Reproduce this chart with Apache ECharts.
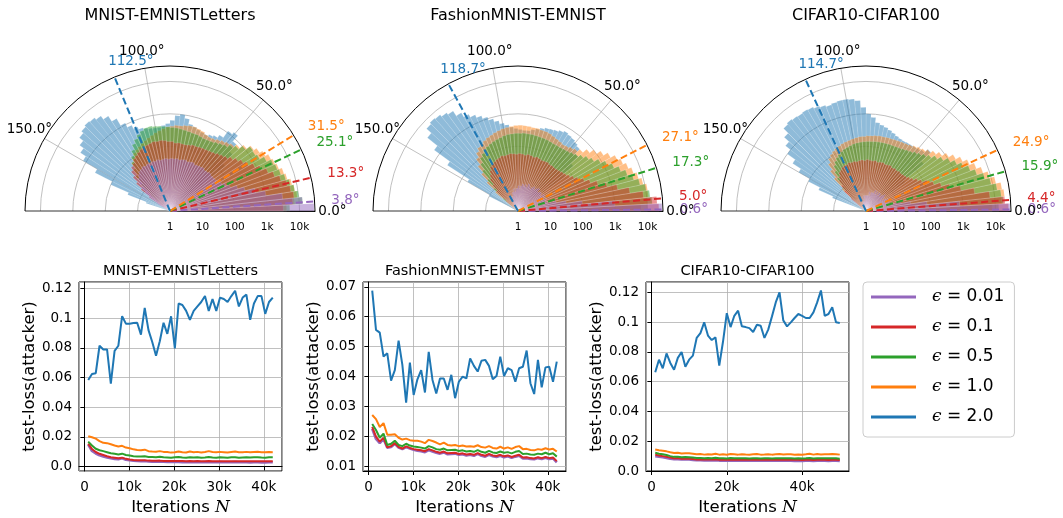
<!DOCTYPE html>
<html><head><meta charset="utf-8">
<script src="https://cdn.jsdelivr.net/npm/echarts@6/dist/echarts.min.js"></script>
<style>html,body{margin:0;padding:0;background:#fff}#c{width:1063px;height:518px}</style>
</head><body><div id="c"></div>
<script>
const FONT = 'DejaVu Sans';
// series order: eps 0.01, 0.1, 0.5, 1.0, 2.0
const epsNames = ['ϵ = 0.01', 'ϵ = 0.1', 'ϵ = 0.5', 'ϵ = 1.0', 'ϵ = 2.0'];
const COLORS = ['#9467bd', '#d62728', '#2ca02c', '#ff7f0e', '#1f77b4'];
const titles = ['MNIST-EMNISTLetters', 'FashionMNIST-EMNIST', 'CIFAR10-CIFAR100'];

// ---------- polar histograms: counts per 3° bin starting at 0° ----------
const BIN_DEG = 3;
const angleTicks = [0, 50, 100, 150];
const RMAX = 30000;

const h1_001 = [28000,12589,3162,1000,501,251,158,100,79,63,56,50,48,47,50,46,45,48,45,44,42,45,43,41,44,42,40,43,41,42,40,42,41,39,42,40,41,39,40,38,40,37,35,30,25,20,14,9,6,3];
const h1_01 = [3162,6310,7079,6026,5012,3548,2512,1778,1259,891,631,501,398,316,251,224,200,178,166,158,151,148,141,141,132,126,126,132,126,141,141,151,158,151,158,148,141,132,126,112,100,89,71,63,50,35,22,13,6];
const h1_05 = [5012,12589,10000,7943,6310,5012,3981,3548,3162,2239,1585,1413,1479,1000,708,562,447,398,355,316,302,295,302,316,316,331,339,355,372,380,398,417,437,457,479,468,417,355,282,224,158,112,79,50,32,16,6];
const h1_10 = [3981,7079,8913,7943,7079,5623,5012,3981,3548,3162,2512,1995,1585,1122,794,631,562,501,447,398,380,398,447,479,501,501,479,447,447,417,398,355,316,282,251,224,200,178,158,141,126,100,79,50,32,16,8,3];
const h1_20 = [0,0,0,0,0,0,0,0,0,0,0,0,0,158,398,794,1350,1120,631,501,447,398,417,447,501,562,794,1000,891,631,501,447,398,398,417,447,501,603,794,1120,1995,3162,4266,5012,5370,4786,3981,2818,1995,1259,398,100,25,6];

const h2_001 = [28000,1000,100,32,16,9,8,9,7,8,9,7,8,8,7,9,8,7,8,7,6,7,8,6,7,6,7,6,5,6,5,5,4,5,4,4,3,3,3,2];
const h2_01 = [22387,19953,7943,3162,1413,708,398,251,178,126,100,83,72,66,60,57,55,56,54,57,55,53,56,58,54,57,59,55,58,60,57,59,61,58,56,59,55,52,48,45,40,32,25,20,13,8,3];
const h2_05 = [10000,14125,12589,10000,7079,5012,3548,2512,1778,1259,891,631,501,398,316,282,251,240,229,224,224,229,234,240,240,245,251,251,257,251,251,245,240,229,214,200,186,174,158,141,120,100,71,45,22,10,4];
const h2_10 = [6310,10000,11220,11220,8913,7079,5623,4467,3548,2818,1995,1413,1000,708,501,398,355,316,302,316,331,355,380,398,398,417,417,427,437,447,437,417,398,380,355,331,302,282,251,224,200,158,112,71,40,20,8];
const h2_20 = [0,0,0,0,0,0,0,0,0,0,0,0,63,158,316,501,562,631,661,708,631,562,525,501,447,398,355,316,316,331,355,398,479,562,708,891,1122,1413,1778,2239,3162,4786,5623,6607,7079,6310,3981,1585,398,63,10];

const h3_001 = [28000,794,79,25,13,6,5,6,5,6,5,4,5,6,5,4,5,5,4,5,4,5,4,4,4,3,4,3,3,3,3,3,2,3,2,2,2];
const h3_01 = [25119,19953,7079,2512,1000,501,282,178,126,89,71,56,48,42,40,38,39,37,38,36,39,37,36,38,37,35,38,36,37,39,36,38,37,35,37,36,38,35,36,34,30,28,22,18,12,8,4];
const h3_05 = [12589,17783,15849,12589,8913,6310,3981,2818,1995,1413,1000,708,525,398,316,263,229,200,182,170,158,155,151,151,148,148,145,145,141,141,138,135,132,126,120,112,105,95,85,74,63,50,35,22,11,5];
const h3_10 = [7943,15849,19953,17783,12589,8913,6310,4467,3162,2239,1585,1122,794,603,479,398,355,316,282,263,251,240,234,229,229,224,224,219,214,209,200,200,191,182,174,166,158,148,138,126,112,95,71,45,25,10];
const h3_20 = [0,0,0,0,0,0,0,0,0,0,0,0,32,200,501,355,316,302,295,288,282,295,316,355,398,447,501,562,794,1000,1585,2630,3020,3162,3162,3020,2818,3162,3548,3981,4169,3981,4169,4467,3981,2512,1585,1000,501,251,100,40,13];

const mean1 = [3.8, 13.3, 25.1, 31.5, 112.5];
const mean2 = [0.6, 5.0, 17.3, 27.1, 118.7];
const mean3 = [0.6, 4.4, 15.9, 24.9, 114.7];

// ---------- test-loss curves ----------
const iters42 = [840,1680,2520,3360,4200,5040,5880,6720,7560,8400,9240,10080,10920,11760,12600,13440,14280,15120,15960,16800,17640,18480,19320,20160,21000,21840,22680,23520,24360,25200,26040,26880,27720,28560,29400,30240,31080,31920,32760,33600,34440,35280,36120,36960,37800,38640,39480,40320,41160,42000];
const iters50 = [1000,2000,3000,4000,5000,6000,7000,8000,9000,10000,11000,12000,13000,14000,15000,16000,17000,18000,19000,20000,21000,22000,23000,24000,25000,26000,27000,28000,29000,30000,31000,32000,33000,34000,35000,36000,37000,38000,39000,40000,41000,42000,43000,44000,45000,46000,47000,48000,49000,50000];

const l1_001 = [0.0148,0.0105,0.0088,0.0076,0.0068,0.0062,0.0056,0.0052,0.0050,0.0056,0.0046,0.0042,0.0039,0.0037,0.0036,0.0037,0.0034,0.0033,0.0033,0.0034,0.0032,0.0031,0.0031,0.0032,0.0031,0.0030,0.0030,0.0031,0.0030,0.0030,0.0029,0.0030,0.0030,0.0029,0.0029,0.0030,0.0029,0.0029,0.0029,0.0030,0.0029,0.0029,0.0029,0.0028,0.0029,0.0029,0.0028,0.0028,0.0029,0.0029];
const l1_01 = [0.0155,0.0118,0.0098,0.0086,0.0078,0.0070,0.0063,0.0060,0.0056,0.0060,0.0052,0.0048,0.0045,0.0043,0.0042,0.0043,0.0040,0.0039,0.0039,0.0040,0.0038,0.0037,0.0037,0.0038,0.0038,0.0037,0.0036,0.0037,0.0036,0.0037,0.0036,0.0036,0.0037,0.0036,0.0036,0.0036,0.0036,0.0035,0.0036,0.0036,0.0035,0.0036,0.0036,0.0035,0.0036,0.0036,0.0035,0.0035,0.0036,0.0036];
const l1_05 = [0.0168,0.0142,0.0120,0.0110,0.0104,0.0097,0.0090,0.0086,0.0082,0.0087,0.0078,0.0074,0.0070,0.0068,0.0067,0.0069,0.0065,0.0064,0.0063,0.0066,0.0062,0.0061,0.0060,0.0062,0.0064,0.0061,0.0060,0.0063,0.0061,0.0062,0.0060,0.0061,0.0064,0.0061,0.0060,0.0062,0.0061,0.0060,0.0062,0.0063,0.0060,0.0061,0.0062,0.0061,0.0062,0.0063,0.0061,0.0060,0.0062,0.0062];
const l1_10 = [0.0205,0.0198,0.0188,0.0172,0.0160,0.0158,0.0150,0.0142,0.0135,0.0140,0.0128,0.0124,0.0116,0.0112,0.0110,0.0114,0.0104,0.0101,0.0100,0.0104,0.0099,0.0098,0.0094,0.0096,0.0102,0.0097,0.0095,0.0101,0.0097,0.0099,0.0095,0.0098,0.0104,0.0098,0.0096,0.0099,0.0097,0.0095,0.0098,0.0101,0.0096,0.0097,0.0099,0.0096,0.0098,0.0100,0.0097,0.0096,0.0098,0.0097];
const l1_20 = [0.0584,0.0625,0.0630,0.0815,0.0790,0.0790,0.0560,0.0780,0.0815,0.1014,0.0964,0.0964,0.0968,0.0970,0.0890,0.1070,0.0920,0.0840,0.0747,0.0845,0.0970,0.0895,0.1014,0.0797,0.1100,0.1090,0.1050,0.0990,0.1050,0.1080,0.1110,0.1150,0.1050,0.1130,0.1050,0.1140,0.1130,0.1110,0.1150,0.1186,0.1080,0.1140,0.1160,0.0990,0.1100,0.1150,0.1150,0.1030,0.1110,0.1140];

const l2_001 = [0.0226,0.0192,0.0178,0.0192,0.0163,0.0165,0.0176,0.0163,0.0158,0.0165,0.0160,0.0156,0.0153,0.0151,0.0148,0.0155,0.0150,0.0146,0.0143,0.0147,0.0141,0.0142,0.0143,0.0139,0.0141,0.0137,0.0139,0.0136,0.0142,0.0136,0.0133,0.0139,0.0134,0.0132,0.0136,0.0131,0.0134,0.0129,0.0133,0.0136,0.0127,0.0128,0.0125,0.0124,0.0128,0.0125,0.0129,0.0125,0.0127,0.0114];
const l2_01 = [0.0232,0.0200,0.0183,0.0196,0.0164,0.0168,0.0178,0.0165,0.0160,0.0167,0.0162,0.0158,0.0156,0.0154,0.0151,0.0158,0.0154,0.0149,0.0146,0.0150,0.0144,0.0145,0.0146,0.0142,0.0144,0.0140,0.0142,0.0139,0.0145,0.0139,0.0136,0.0142,0.0137,0.0135,0.0139,0.0134,0.0137,0.0132,0.0136,0.0139,0.0130,0.0131,0.0128,0.0127,0.0131,0.0128,0.0132,0.0128,0.0130,0.0118];
const l2_05 = [0.0242,0.0222,0.0196,0.0210,0.0172,0.0176,0.0186,0.0172,0.0168,0.0176,0.0170,0.0167,0.0165,0.0163,0.0160,0.0168,0.0164,0.0158,0.0156,0.0160,0.0154,0.0155,0.0156,0.0152,0.0154,0.0150,0.0152,0.0149,0.0155,0.0149,0.0146,0.0152,0.0147,0.0145,0.0150,0.0146,0.0148,0.0144,0.0149,0.0152,0.0142,0.0143,0.0140,0.0139,0.0143,0.0141,0.0146,0.0141,0.0144,0.0133];
const l2_10 = [0.0272,0.0258,0.0232,0.0245,0.0206,0.0206,0.0208,0.0196,0.0190,0.0193,0.0188,0.0186,0.0186,0.0183,0.0178,0.0189,0.0185,0.0180,0.0174,0.0180,0.0172,0.0170,0.0172,0.0168,0.0170,0.0167,0.0168,0.0166,0.0171,0.0165,0.0163,0.0168,0.0162,0.0160,0.0166,0.0160,0.0164,0.0159,0.0165,0.0168,0.0158,0.0159,0.0155,0.0154,0.0158,0.0156,0.0161,0.0157,0.0159,0.0150];
const l2_20 = [0.0687,0.0556,0.0547,0.0467,0.0478,0.0387,0.0422,0.0520,0.0439,0.0313,0.0447,0.0339,0.0391,0.0422,0.0347,0.0483,0.0389,0.0344,0.0394,0.0394,0.0356,0.0406,0.0328,0.0383,0.0400,0.0394,0.0461,0.0436,0.0417,0.0453,0.0456,0.0436,0.0391,0.0402,0.0467,0.0402,0.0428,0.0422,0.0383,0.0428,0.0433,0.0487,0.0378,0.0342,0.0456,0.0364,0.0431,0.0433,0.0383,0.0450];

const l3_001 = [0.0100,0.0096,0.0092,0.0088,0.0082,0.0079,0.0080,0.0077,0.0078,0.0077,0.0075,0.0072,0.0073,0.0071,0.0072,0.0071,0.0073,0.0070,0.0071,0.0069,0.0071,0.0070,0.0069,0.0070,0.0069,0.0069,0.0070,0.0070,0.0069,0.0069,0.0070,0.0069,0.0069,0.0070,0.0069,0.0070,0.0069,0.0068,0.0069,0.0068,0.0069,0.0070,0.0068,0.0069,0.0069,0.0069,0.0068,0.0069,0.0069,0.0068];
const l3_01 = [0.0110,0.0104,0.0100,0.0096,0.0090,0.0086,0.0087,0.0083,0.0084,0.0083,0.0081,0.0078,0.0079,0.0077,0.0078,0.0077,0.0079,0.0076,0.0077,0.0075,0.0077,0.0076,0.0075,0.0076,0.0075,0.0075,0.0076,0.0076,0.0075,0.0075,0.0076,0.0075,0.0075,0.0076,0.0075,0.0076,0.0075,0.0075,0.0075,0.0074,0.0075,0.0076,0.0074,0.0075,0.0075,0.0075,0.0074,0.0075,0.0075,0.0074];
const l3_05 = [0.0122,0.0116,0.0112,0.0107,0.0100,0.0095,0.0096,0.0092,0.0094,0.0093,0.0090,0.0087,0.0088,0.0086,0.0087,0.0086,0.0089,0.0085,0.0086,0.0084,0.0087,0.0086,0.0085,0.0086,0.0085,0.0084,0.0085,0.0086,0.0084,0.0085,0.0086,0.0084,0.0085,0.0086,0.0085,0.0086,0.0085,0.0084,0.0085,0.0084,0.0085,0.0087,0.0084,0.0086,0.0085,0.0086,0.0085,0.0086,0.0085,0.0083];
const l3_10 = [0.0145,0.0140,0.0136,0.0132,0.0126,0.0121,0.0123,0.0118,0.0120,0.0119,0.0116,0.0112,0.0114,0.0110,0.0113,0.0111,0.0116,0.0110,0.0112,0.0109,0.0114,0.0112,0.0110,0.0113,0.0111,0.0110,0.0112,0.0114,0.0110,0.0111,0.0113,0.0110,0.0112,0.0114,0.0111,0.0113,0.0112,0.0110,0.0111,0.0109,0.0112,0.0116,0.0110,0.0114,0.0111,0.0113,0.0112,0.0114,0.0113,0.0110];
const l3_20 = [0.0663,0.0748,0.0690,0.0790,0.0726,0.0680,0.0760,0.0800,0.0700,0.0748,0.0775,0.0894,0.0927,0.0999,0.0910,0.0880,0.0898,0.0708,0.0870,0.1060,0.0967,0.1043,0.1077,0.0972,0.0967,0.0960,0.0934,0.0983,0.0976,0.0894,0.0950,0.1039,0.1133,0.1200,0.1012,0.0972,0.0999,0.1028,0.1055,0.1043,0.1028,0.1028,0.1066,0.1133,0.1213,0.1043,0.1055,0.1101,0.0999,0.0994];

// ---------- layout ----------
const polarCenters = [[170, 211], [518, 211], [866, 211]];
const POLAR_R = 145;
const gridLefts = [79, 363, 646];
const GRID_TOP = 282, GRID_W = 203, GRID_H = 189;
const xMin = [-1218, -1218, -1450], xMax = [44058, 44058, 52450], xSplit = [5, 5, 3];
const yMin = [-0.003, 0.0085, 0], yMax = [0.1245, 0.0716, 0.127];

const histSets = [[h1_001, h1_01, h1_05, h1_10, h1_20], [h2_001, h2_01, h2_05, h2_10, h2_20], [h3_001, h3_01, h3_05, h3_10, h3_20]];
const meanSets = [mean1, mean2, mean3];
const lineSets = [[l1_001, l1_01, l1_05, l1_10, l1_20], [l2_001, l2_01, l2_05, l2_10, l2_20], [l3_001, l3_01, l3_05, l3_10, l3_20]];
const iterSets = [iters42, iters42, iters50];

function histSeries(pi, counts, color) {
  const data = [];
  counts.forEach((c, i) => { if (c > 0) data.push([c, (i + 0.5) * BIN_DEG]); });
  return {
    type: 'custom', coordinateSystem: 'polar', polarIndex: pi, silent: true, z: 2,
    data: data,
    renderItem: function (params, api) {
      const cs = params.coordSys;
      const cnt = api.value(0), ang = api.value(1);
      const pTop = api.coord([cnt, ang]);
      const pA = api.coord([RMAX, ang + BIN_DEG / 2]);
      const pB = api.coord([RMAX, ang - BIN_DEG / 2]);
      const r = Math.hypot(pTop[0] - cs.cx, pTop[1] - cs.cy);
      let a0 = Math.atan2(pA[1] - cs.cy, pA[0] - cs.cx);
      let a1 = Math.atan2(pB[1] - cs.cy, pB[0] - cs.cx);
      if (a1 < a0) a1 += 2 * Math.PI;
      return {
        type: 'sector',
        shape: { cx: cs.cx, cy: cs.cy, r0: 0, r: r, startAngle: a0, endAngle: a1, clockwise: true },
        style: { fill: color, opacity: 0.5, stroke: 'rgba(255,255,255,0.55)', lineWidth: 0.5 }
      };
    }
  };
}

function meanSeries(pi, angles) {
  return {
    type: 'custom', coordinateSystem: 'polar', polarIndex: pi, silent: true, z: 5,
    data: angles.map((a, k) => [RMAX, a, k]),
    renderItem: function (params, api) {
      const cs = params.coordSys;
      const a = api.value(1), k = api.value(2);
      const p0 = api.coord([1, a]);
      const p = api.coord([RMAX, a]);
      const q = [cs.cx + (p[0] - cs.cx) * 1.115, cs.cy + (p[1] - cs.cy) * 1.115];
      return {
        type: 'group', children: [
          { type: 'line', shape: { x1: p0[0], y1: p0[1], x2: p[0], y2: p[1] },
            style: { stroke: COLORS[k], lineWidth: 2, lineDash: [7, 3.5] } },
          { type: 'text', x: q[0], y: q[1],
            style: { text: a.toFixed(1) + '°', fill: COLORS[k], font: '13.5px "DejaVu Sans"', align: 'left', verticalAlign: 'middle' } }
        ]
      };
    }
  };
}

function angleLabelSeries(pi) {
  return {
    type: 'custom', coordinateSystem: 'polar', polarIndex: pi, silent: true, z: 6,
    data: angleTicks.map(a => [RMAX, a]),
    renderItem: function (params, api) {
      const cs = params.coordSys;
      const a = api.value(1);
      const p = api.coord([RMAX, a]);
      const q = [cs.cx + (p[0] - cs.cx) * 1.12, cs.cy + (p[1] - cs.cy) * 1.12];
      return { type: 'text', x: q[0], y: q[1],
        style: { text: a.toFixed(1) + '°', fill: '#000', font: '13.5px "DejaVu Sans"', align: 'center', verticalAlign: 'middle' } };
    }
  };
}

const polar = [], angleAxis = [], radiusAxis = [], series = [], title = [], grid = [], xAxis = [], yAxis = [];

for (let p = 0; p < 3; p++) {
  polar.push({ center: polarCenters[p], radius: POLAR_R });
  angleAxis.push({
    polarIndex: p, type: 'value', min: 0, max: 180, interval: 50,
    startAngle: 0, endAngle: 180, clockwise: false,
    axisLine: { show: true, lineStyle: { color: '#000', width: 1 } },
    axisTick: { show: false }, axisLabel: { show: false },
    splitLine: { show: true, lineStyle: { color: ['#000', '#b0b0b0', '#b0b0b0', '#b0b0b0', '#000'], width: 0.8 } }
  });
  radiusAxis.push({
    polarIndex: p, type: 'log', logBase: 10, min: 1, max: RMAX,
    axisLine: { show: true, lineStyle: { color: '#000', width: 1 } },
    axisTick: { show: false },
    axisLabel: {
      fontSize: 10.5, color: '#000', fontFamily: FONT, margin: -22,
      formatter: function (v) {
        const l = Math.log10(v);
        if (Math.abs(l - Math.round(l)) > 1e-6) return '';
        const n = Math.round(v);
        return n >= 1000 ? (n / 1000) + 'k' : String(n);
      }
    },
    splitLine: { show: true, lineStyle: { color: ['#b0b0b0', '#b0b0b0', '#b0b0b0', '#b0b0b0', '#b0b0b0', 'rgba(0,0,0,0)'], width: 0.8 } }
  });
  const hs = histSets[p];
  for (let k = 4; k >= 0; k--) series.push(histSeries(p, hs[k], COLORS[k]));
  series.push(meanSeries(p, meanSets[p]));
  series.push(angleLabelSeries(p));
  title.push({ text: titles[p], left: polarCenters[p][0], top: 8, textAlign: 'center', padding: 0,
    textStyle: { fontSize: 16, fontWeight: 'normal', color: '#000', fontFamily: FONT } });

  // line charts
  grid.push({ left: gridLefts[p], top: GRID_TOP, width: GRID_W, height: GRID_H, show: true,
    borderColor: '#000', borderWidth: 1, backgroundColor: 'transparent', outerBoundsMode: 'none', containLabel: false });
  title.push({ text: titles[p], left: gridLefts[p] + GRID_W / 2, top: 264, textAlign: 'center', padding: 0,
    textStyle: { fontSize: 14.5, fontWeight: 'normal', color: '#000', fontFamily: FONT } });
  xAxis.push({
    gridIndex: p, type: 'value', min: xMin[p], max: xMax[p], splitNumber: xSplit[p],
    name: '{t|Iterations }{n|N}', nameLocation: 'middle', nameGap: 28,
    nameTextStyle: { fontSize: 16.5, color: '#000', fontFamily: FONT,
      rich: { t: { fontSize: 16.5, fontFamily: FONT, color: '#000' }, n: { fontSize: 17, fontFamily: 'DejaVu Serif', fontStyle: 'italic', color: '#000' } } },
    axisLine: { show: true, lineStyle: { color: '#000', width: 1 } },
    axisTick: { show: true, inside: false, length: 4, lineStyle: { color: '#000' } },
    axisLabel: { fontSize: 13.5, color: '#000', fontFamily: FONT, margin: 9, showMinLabel: false, showMaxLabel: false,
      formatter: v => (Math.abs(v) < 1e-9 ? '0' : (Math.round(v / 1000) + 'k')) },
    splitLine: { show: true, lineStyle: { color: '#b0b0b0', width: 0.8 } }
  });
  yAxis.push({
    gridIndex: p, type: 'value', min: yMin[p], max: yMax[p], splitNumber: 6,
    name: 'test-loss(attacker)', nameLocation: 'middle', nameGap: 41,
    nameTextStyle: { fontSize: 16.5, color: '#000', fontFamily: FONT },
    axisLine: { show: true, lineStyle: { color: '#000', width: 1 } },
    axisTick: { show: true, inside: false, length: 4, lineStyle: { color: '#000' } },
    axisLabel: { fontSize: 13.5, color: '#000', fontFamily: FONT, margin: 7,
      showMinLabel: p === 2, showMaxLabel: false,
      formatter: v => (Math.abs(v) < 1e-9 ? '0.0' : String(Math.round(v * 1000) / 1000)) },
    splitLine: { show: true, lineStyle: { color: '#b0b0b0', width: 0.8 } }
  });
  const ls = lineSets[p], xs = iterSets[p];
  for (let k = 0; k < 5; k++) {
    series.push({
      type: 'line', name: epsNames[k], xAxisIndex: p, yAxisIndex: p,
      data: xs.map((x, i) => [x, ls[k][i]]),
      symbol: 'none', showSymbol: false, z: 3 + k,
      lineStyle: { width: k === 0 ? 2.6 : 2, color: COLORS[k] },
      itemStyle: { color: COLORS[k] }
    });
  }
}

const option = {
  animation: false,
  backgroundColor: '#fff',
  textStyle: { fontFamily: FONT },
  title: title,
  polar: polar, angleAxis: angleAxis, radiusAxis: radiusAxis,
  grid: grid, xAxis: xAxis, yAxis: yAxis,
  legend: {
    data: epsNames, orient: 'vertical', left: 863, top: 282,
    padding: [5, 10, 10, 8], itemWidth: 45, itemHeight: 3, itemGap: 10, icon: 'rect',
    borderColor: '#cccccc', borderWidth: 1, borderRadius: 4, backgroundColor: '#fff', selectedMode: false,
    formatter: n => '{e|ϵ}' + n.slice(1),
    textStyle: { fontSize: 17, color: '#000', fontFamily: FONT, lineHeight: 20, padding: [0, 0, 0, 11],
      rich: { e: { fontFamily: 'DejaVu Serif', fontStyle: 'italic', fontSize: 17, lineHeight: 20, color: '#000' } } }
  },
  series: series
};

const chart = echarts.init(document.getElementById('c'), null, { renderer: 'canvas' });
chart.setOption(option);
</script></body></html>
